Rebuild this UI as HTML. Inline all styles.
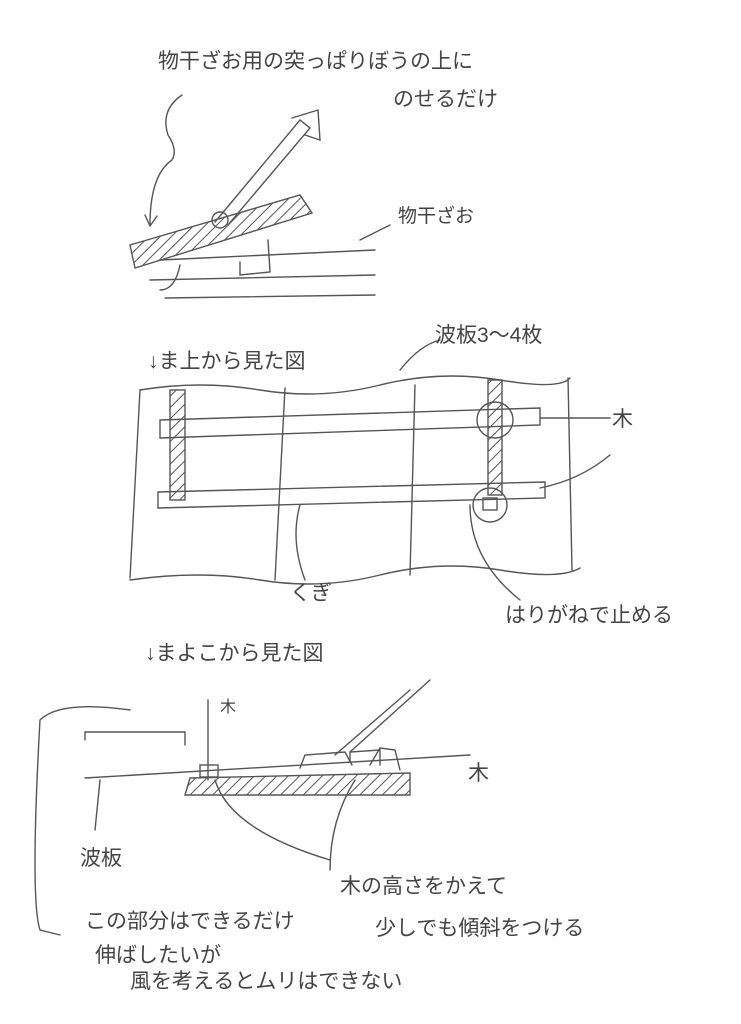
<!DOCTYPE html>
<html><head><meta charset="utf-8">
<style>
html,body{margin:0;padding:0;background:#fff;}
svg{display:block;}
text{font-family:"Liberation Sans","Noto Sans CJK JP",sans-serif;fill:#444;}
</style></head><body>
<svg width="741" height="1024" viewBox="0 0 741 1024" xmlns="http://www.w3.org/2000/svg">
<defs>
<pattern id="h" width="8" height="8" patternUnits="userSpaceOnUse" patternTransform="rotate(45)">
<line x1="0" y1="0" x2="0" y2="8" stroke="#555" stroke-width="2"/>
</pattern>
</defs>
<g fill="none" stroke="#555" stroke-width="1.4" stroke-linecap="round">
<!-- top sketch -->
<path d="M182 95 Q160 110 168 135 Q178 150 172 160 Q150 175 150 225"/>
<path d="M145 215 L150 226 L157 216"/>
<line x1="160" y1="260" x2="375" y2="250"/>
<line x1="150" y1="280" x2="375" y2="275"/>
<line x1="165" y1="298" x2="375" y2="295"/>
<path d="M130 245 L300 195 L312 213 L135 268 Z" fill="url(#h)"/>
<path d="M215 222 L300 120 L310 128 L228 225"/>
<path d="M292 118 L318 110 L320 140 L305 135"/>
<circle cx="220" cy="220" r="8"/>
<path d="M180 265 Q175 290 160 290"/>
<path d="M240 262 L240 275 L270 272 L268 240"/>
<line x1="360" y1="240" x2="390" y2="225"/>
<!-- middle: top view -->
<path d="M140 390 Q200 380 260 390 T380 385 T500 380 T570 378"/>
<path d="M130 580 Q200 570 260 580 T380 575 T500 570 T580 568"/>
<line x1="140" y1="390" x2="130" y2="578"/>
<line x1="285" y1="388" x2="275" y2="580"/>
<line x1="415" y1="385" x2="410" y2="575"/>
<line x1="568" y1="378" x2="572" y2="570"/>
<path d="M160 420 L540 408 L540 425 L160 438 Z"/>
<path d="M158 492 L545 482 L545 498 L158 508 Z"/>
<line x1="540" y1="418" x2="610" y2="418"/>
<rect x="170" y="390" width="15" height="110" fill="url(#h)"/>
<rect x="488" y="380" width="14" height="115" fill="url(#h)"/>
<circle cx="495" cy="420" r="18"/>
<circle cx="490" cy="505" r="17"/>
<rect x="483" y="498" width="14" height="12"/>
<path d="M540 488 Q580 480 610 455"/>
<path d="M470 505 Q470 560 520 600"/>
<path d="M300 505 Q290 540 305 580"/>
<path d="M400 370 Q420 345 440 340"/>
<!-- bottom: side view -->
<path d="M85 740 L85 732 L185 732 L185 745"/>
<line x1="85" y1="778" x2="470" y2="755"/>
<path d="M190 778 L410 773 L410 795 L185 795 Z" fill="url(#h)"/>
<line x1="208" y1="700" x2="208" y2="780"/>
<rect x="200" y="765" width="18" height="12"/>
<path d="M300 768 L305 755 L345 752 L352 765"/>
<path d="M335 755 L410 690"/>
<path d="M350 752 L430 680"/>
<path d="M350 762 L350 752 L380 750 L380 765"/>
<path d="M370 765 L380 748 L395 750 L400 770"/>
<path d="M215 780 Q230 830 330 860"/>
<path d="M355 780 Q330 820 330 870"/>
<path d="M100 780 L95 830"/>
<path d="M130 710 Q60 700 40 720 Q30 900 40 930 L60 935"/>
</g>
<g font-size="21">
<text x="158" y="68">物干ざお用の突っぱりぼうの上に</text>
<text x="393" y="106">のせるだけ</text>
<text x="398" y="222" font-size="19">物干ざお</text>
<text x="435" y="342">波板3〜4枚</text>
<text x="148" y="368">↓ま上から見た図</text>
<text x="612" y="426">木</text>
<text x="290" y="600">くぎ</text>
<text x="505" y="622">はりがねで止める</text>
<text x="145" y="660">↓まよこから見た図</text>
<text x="220" y="712" font-size="16">木</text>
<text x="468" y="780">木</text>
<text x="80" y="865">波板</text>
<text x="340" y="893">木の高さをかえて</text>
<text x="375" y="935">少しでも傾斜をつける</text>
<text x="85" y="928">この部分はできるだけ</text>
<text x="95" y="962">伸ばしたいが</text>
<text x="130" y="988">風を考えるとムリはできない</text>
</g>
</svg>
</body></html>
